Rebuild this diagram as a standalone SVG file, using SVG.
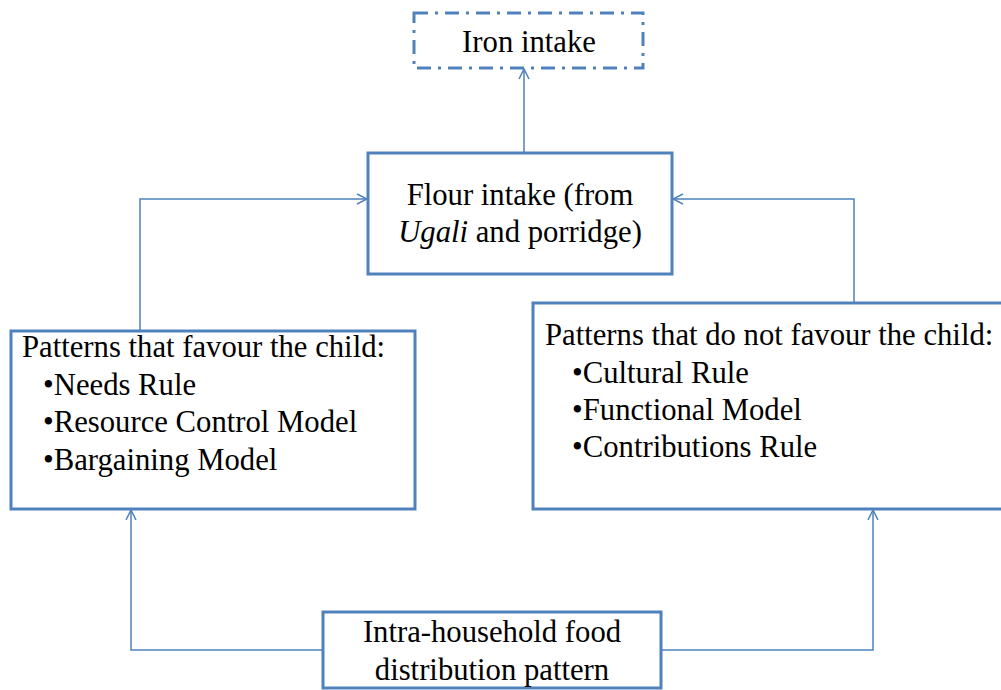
<svg xmlns="http://www.w3.org/2000/svg" width="1001" height="690" viewBox="0 0 1001 690">
  <style>
    .box { fill: #ffffff; stroke: #4F81BD; stroke-width: 3; }
    .dashbox { fill: #ffffff; stroke: #4F81BD; stroke-width: 3; stroke-dasharray: 14 7 3 7; }
    .conn { fill: none; stroke: #4F81BD; stroke-width: 1.5; }
    text { font-family: "Liberation Serif", "Times New Roman", serif; font-size: 30.7px; fill: #000000; }
    .c { text-anchor: middle; }
  </style>
  <defs>
    <marker id="arrow" viewBox="0 0 12 12" refX="11" refY="6" markerWidth="12" markerHeight="12" markerUnits="userSpaceOnUse" orient="auto">
      <path d="M1,1 L11,6 L1,11" fill="none" stroke="#4F81BD" stroke-width="1.5"/>
    </marker>
  </defs>

  <g id="connectors">
    <line class="conn" x1="524" y1="152" x2="524" y2="69" marker-end="url(#arrow)"/>
    <polyline class="conn" points="140,331 140,199 367,199" marker-end="url(#arrow)"/>
    <polyline class="conn" points="854,303 854,199 673,199" marker-end="url(#arrow)"/>
    <polyline class="conn" points="323,650 131,650 131,510" marker-end="url(#arrow)"/>
    <polyline class="conn" points="661,650 873,650 873,510" marker-end="url(#arrow)"/>
  </g>

  <g id="iron-intake">
    <rect class="dashbox" x="414" y="13" width="229" height="55"/>
    <text class="c" x="529" y="52">Iron intake</text>
  </g>

  <g id="flour-intake">
    <rect class="box" x="368" y="153" width="304" height="121"/>
    <text class="c" x="520" y="205">Flour intake (from</text>
    <text class="c" x="520" y="242"><tspan font-style="italic">Ugali</tspan> and porridge)</text>
  </g>

  <g id="favour">
    <rect class="box" x="11" y="331" width="404" height="178"/>
    <text x="22" y="357">Patterns that favour the child:</text>
    <text x="43" y="395">•Needs Rule</text>
    <text x="43" y="432">•Resource Control Model</text>
    <text x="43" y="470">•Bargaining Model</text>
  </g>

  <g id="not-favour">
    <rect class="box" x="533" y="303" width="470" height="206"/>
    <text x="545" y="345">Patterns that do not favour the child:</text>
    <text x="572" y="383">•Cultural Rule</text>
    <text x="572" y="420">•Functional Model</text>
    <text x="572" y="457">•Contributions Rule</text>
  </g>

  <g id="distribution">
    <rect class="box" x="323" y="612" width="338" height="76"/>
    <text class="c" x="492" y="642">Intra-household food</text>
    <text class="c" x="492" y="680">distribution pattern</text>
  </g>
</svg>
